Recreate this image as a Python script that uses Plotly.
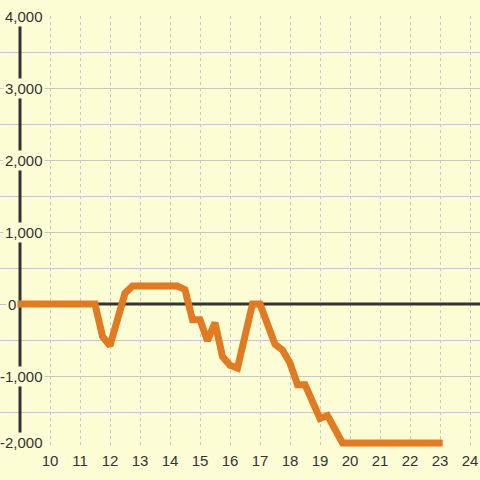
import plotly.graph_objects as go

# data (hour of day vs value)
hours = [8.89, 11.5, 11.75, 12, 12.5, 12.75, 14.25, 14.5, 14.75, 15, 15.25, 15.5,
         15.75, 16, 16.25, 16.75, 17, 17.5, 17.75, 18, 18.25, 18.5, 19, 19.25,
         19.75, 23.09]
values = [0, 0, -450, -580, 150, 250, 250, 200, -220, -220, -510, -260,
          -730, -850, -890, 0, 0, -560, -640, -820, -1120, -1120, -1590, -1550,
          -1930, -1930]

y_tick_vals = [4000, 3000, 2000, 1000, 0, -1000, -2000]
y_tick_text = ["4,000", "3,000", "2,000", "1,000", "0", "-1,000", "-2,000"]
x_tick_vals = list(range(10, 25))
x_tick_text = [str(v) for v in x_tick_vals]

BG = "#fcfcd5"
GRID = "#c8c8c8"
DARK = "#333333"
ORANGE = "#e07b24"
W = 480
PX_PER_UNIT = 30.0
X_LEFT = 10 - 50 / PX_PER_UNIT
X_RIGHT = 10 + 430 / PX_PER_UNIT
X_GRID_START = 10 - 4 / PX_PER_UNIT
X_AXIS = 9

fig = go.Figure()
fig.add_trace(go.Scatter(x=hours, y=values, mode="lines",
                         line=dict(color=ORANGE, width=7),
                         hoverinfo="skip", showlegend=False))

fig.update_layout(
    width=W, height=480,
    margin=dict(l=0, r=0, t=16, b=32),
    paper_bgcolor=BG, plot_bgcolor=BG,
    font=dict(family="Liberation Sans, Arial, sans-serif", size=15, color=DARK),
    xaxis=dict(range=[X_LEFT, X_RIGHT], tickmode="array", tickvals=x_tick_vals,
               ticktext=x_tick_text, showgrid=True, gridcolor=GRID, gridwidth=1,
               griddash="dot", zeroline=False, showline=False, ticks="",
               ticklabelstandoff=2,
               tickfont=dict(size=15, color=DARK), fixedrange=True),
    yaxis=dict(range=[-2000, 4000], dtick=500, tick0=0, showgrid=True,
               gridcolor=GRID, gridwidth=1, zeroline=False, showline=False,
               showticklabels=False, ticks="", fixedrange=True),
    shapes=[
        dict(type="rect", xref="x", yref="paper", x0=X_LEFT, x1=X_GRID_START,
             y0=0, y1=1, fillcolor=BG, line=dict(width=0), layer="between"),
        dict(type="line", xref="x", yref="y", x0=X_AXIS, x1=X_RIGHT, y0=0, y1=0,
             line=dict(color=DARK, width=3), layer="between"),
        dict(type="line", xref="x", yref="y", x0=X_AXIS, x1=X_AXIS, y0=-2000, y1=4000,
             line=dict(color=DARK, width=3), layer="between"),
    ],
)

for v, t in zip(y_tick_vals, y_tick_text):
    right_px = 17.5 if v == 0 else 44.5
    shift = 6 if v == -2000 else 0
    fig.add_annotation(x=right_px / W, xref="paper", y=v, yref="y", text=t,
                       showarrow=False, xanchor="right", yanchor="middle",
                       yshift=shift, bgcolor=BG, borderpad=1,
                       font=dict(size=15, color=DARK))

fig.write_html("out.html", config={"staticPlot": True},
               post_script="document.body.style.margin='0';document.body.style.background='%s';" % BG)
